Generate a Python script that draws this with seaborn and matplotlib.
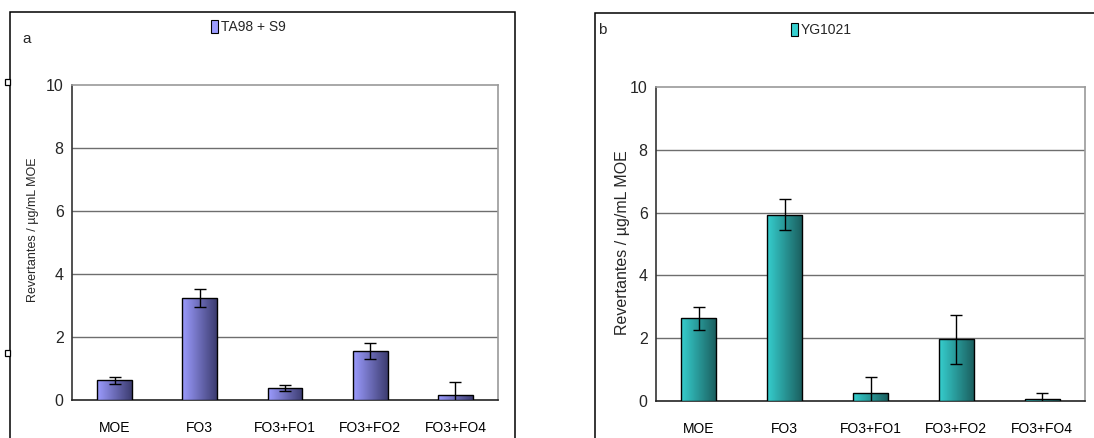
import numpy as np
import pandas as pd
import matplotlib
matplotlib.use("Agg")
import matplotlib.pyplot as plt
from matplotlib.patches import Rectangle, Patch
from matplotlib import font_manager
from matplotlib.colors import LinearSegmentedColormap
import seaborn as sns

# ---- data -------------------------------------------------------------
categories = ["MOE", "FO3", "FO3+FO1", "FO3+FO2", "FO3+FO4"]

ta98_values = [0.62, 3.23, 0.38, 1.55, 0.17]
ta98_errors = [0.11, 0.28, 0.09, 0.25, 0.40]

yg1021_values = [2.63, 5.93, 0.27, 1.96, 0.07]
yg1021_errors = [0.36, 0.50, 0.50, 0.77, 0.20]

y_ticks = [0, 2, 4, 6, 8, 10]
y_label = "Revertantes / \u00b5g/mL MOE"

# ---- style ------------------------------------------------------------
sns.set_theme(style="white")
names = {f.name for f in font_manager.fontManager.ttflist}
base_font = "Liberation Sans" if "Liberation Sans" in names else "DejaVu Sans"
plt.rcParams["font.family"] = [base_font, "DejaVu Sans"]

W, H = 1094, 438
fig = plt.figure(figsize=(W / 100, H / 100), dpi=100)
fig.patch.set_facecolor("white")


def fx(px):
    return px / W


def fy(py):
    return 1 - py / H


def draw_panel(rect, values, errors, light, dark, legend_text, letter, letter_xy,
               legend_xy, ylabel_size, ylabel_xy):
    ax = fig.add_axes(rect)
    df = pd.DataFrame({"cat": categories, "val": values})
    sns.barplot(data=df, x="cat", y="val", ax=ax, color=light, width=0.41,
                edgecolor="black", linewidth=1.0, errorbar=None, zorder=3)
    cmap = LinearSegmentedColormap.from_list("g", [light, dark])
    grad = np.linspace(0, 1, 256).reshape(1, -1)
    for p in ax.patches:
        x0, y0 = p.get_x(), p.get_y()
        w, h = p.get_width(), p.get_height()
        im = ax.imshow(grad, cmap=cmap, aspect="auto", extent=(x0, x0 + w, y0, y0 + h),
                       zorder=3.5, interpolation="bilinear")
        im.set_clip_path(p)
        p.set_facecolor("none")
        p.set_zorder(4)
    ax.errorbar(np.arange(len(categories)), values, yerr=errors, fmt="none",
                ecolor="black", elinewidth=1.0, capsize=4, capthick=1.0, zorder=5)

    ax.set_xlim(-0.5, len(categories) - 0.5)
    ax.set_ylim(0, 10)
    ax.set_yticks(y_ticks)
    ax.set_yticklabels([str(t) for t in y_ticks], fontsize=11.5)
    ax.set_xticks(range(len(categories)))
    ax.set_xticklabels(categories, fontsize=10)
    ax.set_xticks(np.arange(-0.5, len(categories), 1.0), minor=True)
    ax.tick_params(axis="x", which="major", length=0, pad=15, colors="black")
    ax.tick_params(axis="x", which="minor", length=5, width=1, direction="out", color="#333333")
    ax.tick_params(axis="y", length=4, width=1, direction="out", color="#444444", pad=2)
    ax.set_xlabel("")
    ax.set_ylabel(y_label, fontsize=ylabel_size)
    ax.yaxis.set_label_coords(*ylabel_xy)

    for y in y_ticks[1:-1]:
        ax.axhline(y, color="#6e6e6e", lw=1.0, zorder=1)
    ax.spines["top"].set_color("#9a9a9a")
    ax.spines["right"].set_color("#9a9a9a")
    ax.spines["left"].set_color("#333333")
    ax.spines["bottom"].set_color("#222222")
    for s in ax.spines.values():
        s.set_linewidth(1.2)
        s.set_visible(True)

    handle = Patch(facecolor=light, edgecolor="black", linewidth=0.8)
    fig.legend([handle], [legend_text], loc="center left",
               bbox_to_anchor=legend_xy, frameon=False,
               handlelength=0.5, handleheight=1.1, handletextpad=0.2,
               borderaxespad=0, borderpad=0, prop={"size": 10})
    fig.text(letter_xy[0], letter_xy[1], letter, fontsize=11, ha="left", va="center")
    return ax


# panel frames
fig.add_artist(Rectangle((fx(10), -0.1), fx(505), fy(12) + 0.1, transform=fig.transFigure,
                         fill=False, edgecolor="black", lw=1.1))
fig.add_artist(Rectangle((fx(595), -0.1), fx(600), fy(13) + 0.1, transform=fig.transFigure,
                         fill=False, edgecolor="black", lw=1.1))
# small selection handles on the left frame edge of panel a
for hy in (82, 353):
    fig.add_artist(Rectangle((fx(5), fy(hy + 3)), fx(5), 6 / H, transform=fig.transFigure,
                             facecolor="white", edgecolor="black", lw=0.9))

draw_panel([fx(72), fy(400), fx(498 - 72), fy(85) - fy(400)], ta98_values, ta98_errors,
           "#9c9cff", "#3c3c70", "TA98 + S9", "a", (fx(22), fy(39)), (fx(211), fy(27)),
           9.0, (-0.077, 0.54))
draw_panel([fx(656), fy(401), fx(1085 - 656), fy(87) - fy(401)], yg1021_values, yg1021_errors,
           "#36cfcf", "#1a5c5c", "YG1021", "b", (fx(598), fy(30)), (fx(791), fy(30)),
           11.5, (-0.06, 0.503))

fig.savefig("out.png", dpi=100, facecolor="white")
